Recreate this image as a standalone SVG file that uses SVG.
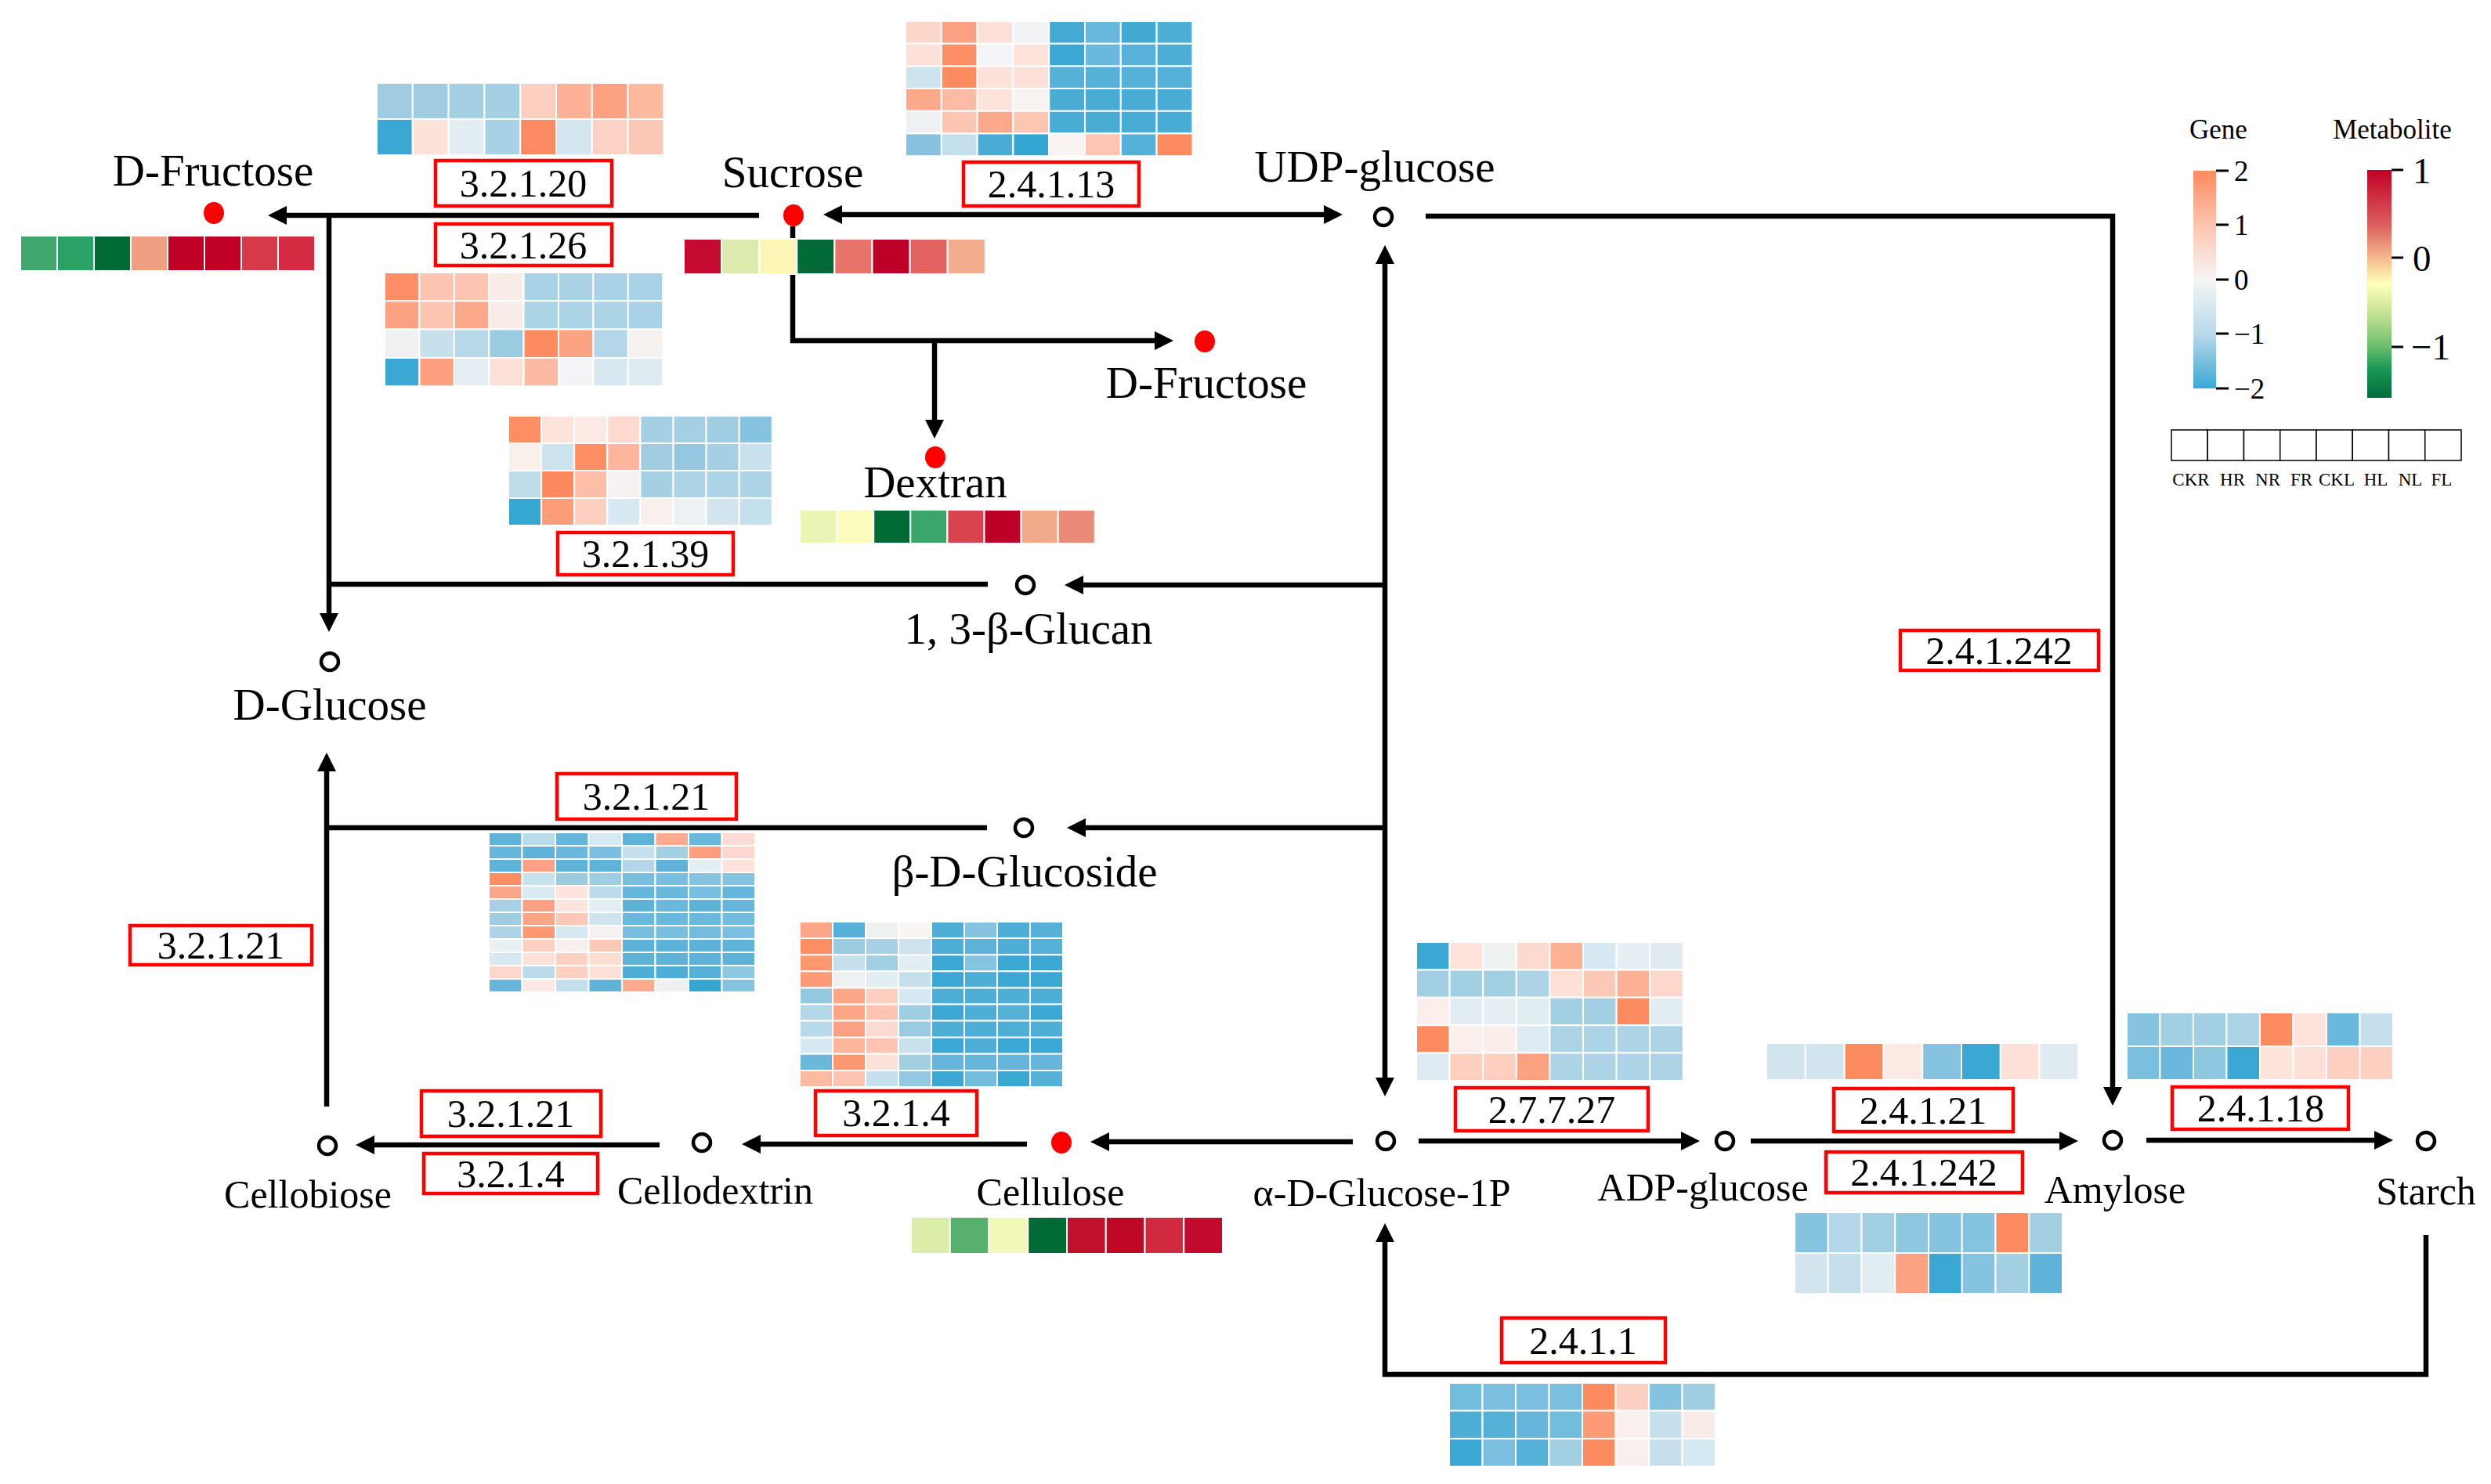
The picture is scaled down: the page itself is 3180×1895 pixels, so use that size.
<svg xmlns="http://www.w3.org/2000/svg" width="3180" height="1895" viewBox="0 0 3180 1895">
<style>
text{font-family:"Liberation Serif","Times New Roman",serif;fill:#000}
.lbl{font-size:57px;text-anchor:middle}
.lbl2{font-size:50px;text-anchor:middle}
.ec rect.box{fill:#fff;stroke:#ff0000;stroke-width:4.5}
.ec text{font-size:50px;text-anchor:middle}
.hm rect{stroke:#ffffff;stroke-width:2;vector-effect:non-scaling-stroke}
.conn path{stroke:#000;stroke-width:6.5;fill:none}
.open{fill:#fff;stroke:#000;stroke-width:4.5}
.dot{fill:#ff0000}
.tick{stroke:#000;stroke-width:3}
.gl{font-size:37px}
.ml{font-size:47px}
.smp{font-size:23px;text-anchor:middle}
</style>
<defs>
<marker id="ah" viewBox="0 0 24 24" refX="2" refY="12" markerWidth="24" markerHeight="24" markerUnits="userSpaceOnUse" orient="auto-start-reverse"><path d="M0,0 L24,12 L0,24 z" fill="#000"/></marker>
<linearGradient id="gGene" x1="0" y1="0" x2="0" y2="1">
<stop offset="0" stop-color="#fc8a5f"/><stop offset="0.25" stop-color="#fdc4ae"/><stop offset="0.5" stop-color="#f5f5f5"/><stop offset="0.75" stop-color="#b9d9ea"/><stop offset="1" stop-color="#3aa8d3"/>
</linearGradient>
<linearGradient id="gMet" x1="0" y1="0" x2="0" y2="1">
<stop offset="0" stop-color="#c00025"/><stop offset="0.24" stop-color="#dd5e5c"/><stop offset="0.38" stop-color="#f4b58a"/><stop offset="0.5" stop-color="#ffffbb"/><stop offset="0.64" stop-color="#c0e092"/><stop offset="0.77" stop-color="#6ebe6e"/><stop offset="0.87" stop-color="#1b9a55"/><stop offset="1" stop-color="#006b3a"/>
</linearGradient>
</defs>
<rect width="3180" height="1895" fill="#fff"/>

<g id="connectors" class="conn">
<path d="M969,275 H364" marker-end="url(#ah)"/>
<path d="M420,275 V785" marker-end="url(#ah)"/>
<path d="M1261,746 H420"/>
<path d="M1012,289 V435 H1476" marker-end="url(#ah)"/>
<path d="M1193,435 V538" marker-end="url(#ah)"/>
<path d="M1073,274 H1692" marker-start="url(#ah)" marker-end="url(#ah)"/>
<path d="M1820,276 H2697 V1390" marker-end="url(#ah)"/>
<path d="M1768,335 V1378" marker-start="url(#ah)" marker-end="url(#ah)"/>
<path d="M1768,747 H1381" marker-end="url(#ah)"/>
<path d="M1768,1057 H1384" marker-end="url(#ah)"/>
<path d="M1260,1057 H417"/>
<path d="M417,1413 V983" marker-end="url(#ah)"/>
<path d="M1727,1458 H1414" marker-end="url(#ah)"/>
<path d="M1311,1461 H969" marker-end="url(#ah)"/>
<path d="M842,1462 H476" marker-end="url(#ah)"/>
<path d="M1811,1457 H2148" marker-end="url(#ah)"/>
<path d="M2235,1457 H2631" marker-end="url(#ah)"/>
<path d="M2740,1456 H3033" marker-end="url(#ah)"/>
<path d="M3097,1577 V1755 H1768 V1584" marker-end="url(#ah)"/>
</g>

<!-- Metabolite nodes -->
<g id="node-dfructose-left">
<text class="lbl" x="272" y="237">D-Fructose</text>
<ellipse class="dot" cx="273" cy="272" rx="13" ry="14"/>
<g class="hm" transform="translate(26,301) scale(47,45)">
<rect x="0" y="0" width="1" height="1" fill="#40a86c"/><rect x="1" y="0" width="1" height="1" fill="#2aa265"/><rect x="2" y="0" width="1" height="1" fill="#006b35"/><rect x="3" y="0" width="1" height="1" fill="#ef9f82"/><rect x="4" y="0" width="1" height="1" fill="#c00025"/><rect x="5" y="0" width="1" height="1" fill="#c00025"/><rect x="6" y="0" width="1" height="1" fill="#d63a48"/><rect x="7" y="0" width="1" height="1" fill="#d62b42"/>
</g>
</g>

<g id="node-sucrose">
<text class="lbl" x="1012" y="239">Sucrose</text>
<g class="hm" transform="translate(873,305) scale(48.1,45)">
<rect x="0" y="0" width="1" height="1" fill="#c40a2e"/><rect x="1" y="0" width="1" height="1" fill="#dbeaad"/><rect x="2" y="0" width="1" height="1" fill="#fdf5b5"/><rect x="3" y="0" width="1" height="1" fill="#006b37"/><rect x="4" y="0" width="1" height="1" fill="#e8736a"/><rect x="5" y="0" width="1" height="1" fill="#be0028"/><rect x="6" y="0" width="1" height="1" fill="#e2625f"/><rect x="7" y="0" width="1" height="1" fill="#f2ad8c"/>
</g>
<ellipse class="dot" cx="1013" cy="275" rx="13" ry="14"/>
</g>

<g id="node-udpglucose">
<text class="lbl" x="1755" y="232">UDP-glucose</text>
<circle class="open" cx="1766" cy="277" r="11"/>
</g>

<g id="node-dfructose-right">
<ellipse class="dot" cx="1538" cy="436" rx="13" ry="14"/>
<text class="lbl" x="1540" y="508">D-Fructose</text>
</g>

<g id="node-dextran">
<ellipse class="dot" cx="1194" cy="584" rx="13" ry="14"/>
<text class="lbl" x="1194" y="635">Dextran</text>
<g class="hm" transform="translate(1021,651) scale(47.1,43)">
<rect x="0" y="0" width="1" height="1" fill="#e9f4b5"/><rect x="1" y="0" width="1" height="1" fill="#fbfbbb"/><rect x="2" y="0" width="1" height="1" fill="#006a35"/><rect x="3" y="0" width="1" height="1" fill="#3aa66b"/><rect x="4" y="0" width="1" height="1" fill="#d8434e"/><rect x="5" y="0" width="1" height="1" fill="#be0026"/><rect x="6" y="0" width="1" height="1" fill="#f2ab8a"/><rect x="7" y="0" width="1" height="1" fill="#ea8a78"/>
</g>
</g>

<g id="node-glucan">
<circle class="open" cx="1309" cy="747" r="11"/>
<text class="lbl" x="1313" y="822">1, 3-β-Glucan</text>
</g>

<g id="node-dglucose">
<circle class="open" cx="421" cy="845" r="11"/>
<text class="lbl" x="421" y="919">D-Glucose</text>
</g>

<g id="node-glucoside">
<circle class="open" cx="1307" cy="1057" r="11"/>
<text class="lbl" x="1308" y="1132">β-D-Glucoside</text>
</g>

<g id="node-cellobiose">
<circle class="open" cx="418" cy="1463" r="11"/>
<text class="lbl2" x="393" y="1542">Cellobiose</text>
</g>

<g id="node-cellodextrin">
<circle class="open" cx="896" cy="1459" r="11"/>
<text class="lbl2" x="913" y="1537">Cellodextrin</text>
</g>

<g id="node-cellulose">
<ellipse class="dot" cx="1355" cy="1459" rx="13" ry="14"/>
<text class="lbl2" x="1341" y="1539">Cellulose</text>
<g class="hm" transform="translate(1163,1554) scale(49.75,47)">
<rect x="0" y="0" width="1" height="1" fill="#dcedaa"/><rect x="1" y="0" width="1" height="1" fill="#57b06e"/><rect x="2" y="0" width="1" height="1" fill="#f2f8b8"/><rect x="3" y="0" width="1" height="1" fill="#006a35"/><rect x="4" y="0" width="1" height="1" fill="#c0102c"/><rect x="5" y="0" width="1" height="1" fill="#be0826"/><rect x="6" y="0" width="1" height="1" fill="#d12a40"/><rect x="7" y="0" width="1" height="1" fill="#c40a2c"/>
</g>
</g>

<g id="node-glucose1p">
<circle class="open" cx="1769" cy="1457" r="11"/>
<text class="lbl2" x="1764" y="1540">α-D-Glucose-1P</text>
</g>

<g id="node-adpglucose">
<circle class="open" cx="2202" cy="1457" r="11"/>
<text class="lbl2" x="2174" y="1533">ADP-glucose</text>
</g>

<g id="node-amylose">
<circle class="open" cx="2697" cy="1456" r="11"/>
<text class="lbl2" x="2700" y="1536">Amylose</text>
</g>

<g id="node-starch">
<circle class="open" cx="3097" cy="1457" r="11"/>
<text class="lbl2" x="3097" y="1538">Starch</text>
</g>

<!-- Enzymes -->
<g id="ec-3.2.1.20" class="ec">
<g class="hm" transform="translate(481,106) scale(45.8,46)">
<rect x="0" y="0" width="1" height="1" fill="#a0cbe1"/><rect x="1" y="0" width="1" height="1" fill="#a0cbe1"/><rect x="2" y="0" width="1" height="1" fill="#a5cfe3"/><rect x="3" y="0" width="1" height="1" fill="#a5cfe3"/><rect x="4" y="0" width="1" height="1" fill="#fdcfc0"/><rect x="5" y="0" width="1" height="1" fill="#fdb196"/><rect x="6" y="0" width="1" height="1" fill="#fca283"/><rect x="7" y="0" width="1" height="1" fill="#fdba9f"/>
<rect x="0" y="1" width="1" height="1" fill="#3aa8d3"/><rect x="1" y="1" width="1" height="1" fill="#fde2da"/><rect x="2" y="1" width="1" height="1" fill="#e3eef3"/><rect x="3" y="1" width="1" height="1" fill="#a9d1e5"/><rect x="4" y="1" width="1" height="1" fill="#fc8a62"/><rect x="5" y="1" width="1" height="1" fill="#d4e6ef"/><rect x="6" y="1" width="1" height="1" fill="#fdd1c3"/><rect x="7" y="1" width="1" height="1" fill="#fdc9b7"/>
</g>
<rect class="box" x="556" y="205" width="225" height="58"/>
<text x="668" y="251">3.2.1.20</text>
</g>

<g id="ec-3.2.1.26" class="ec">
<rect class="box" x="556" y="286" width="225" height="53"/>
<text x="668" y="330">3.2.1.26</text>
<g class="hm" transform="translate(491,348) scale(44.4,36.3)">
<rect x="0" y="0" width="1" height="1" fill="#fd8d64"/><rect x="1" y="0" width="1" height="1" fill="#fdc4b1"/><rect x="2" y="0" width="1" height="1" fill="#fdc4b1"/><rect x="3" y="0" width="1" height="1" fill="#f9ece8"/><rect x="4" y="0" width="1" height="1" fill="#a9d2e6"/><rect x="5" y="0" width="1" height="1" fill="#a9d2e6"/><rect x="6" y="0" width="1" height="1" fill="#a9d2e6"/><rect x="7" y="0" width="1" height="1" fill="#a9d2e6"/>
<rect x="0" y="1" width="1" height="1" fill="#fca283"/><rect x="1" y="1" width="1" height="1" fill="#fdc4b1"/><rect x="2" y="1" width="1" height="1" fill="#fca98b"/><rect x="3" y="1" width="1" height="1" fill="#f9ece8"/><rect x="4" y="1" width="1" height="1" fill="#abd4e7"/><rect x="5" y="1" width="1" height="1" fill="#abd4e7"/><rect x="6" y="1" width="1" height="1" fill="#abd4e7"/><rect x="7" y="1" width="1" height="1" fill="#a9d2e6"/>
<rect x="0" y="2" width="1" height="1" fill="#eef0f2"/><rect x="1" y="2" width="1" height="1" fill="#c6e0ec"/><rect x="2" y="2" width="1" height="1" fill="#b7d8e9"/><rect x="3" y="2" width="1" height="1" fill="#9bcbe1"/><rect x="4" y="2" width="1" height="1" fill="#fd8b60"/><rect x="5" y="2" width="1" height="1" fill="#fca384"/><rect x="6" y="2" width="1" height="1" fill="#b3d6e8"/><rect x="7" y="2" width="1" height="1" fill="#f6f2f0"/>
<rect x="0" y="3" width="1" height="1" fill="#39a8d4"/><rect x="1" y="3" width="1" height="1" fill="#fda07f"/><rect x="2" y="3" width="1" height="1" fill="#e6eff4"/><rect x="3" y="3" width="1" height="1" fill="#fde0d6"/><rect x="4" y="3" width="1" height="1" fill="#fdbaa2"/><rect x="5" y="3" width="1" height="1" fill="#f3f4f6"/><rect x="6" y="3" width="1" height="1" fill="#d8e8f0"/><rect x="7" y="3" width="1" height="1" fill="#dfeaf1"/>
</g>
</g>

<g id="ec-2.4.1.13" class="ec">
<g class="hm" transform="translate(1156,27) scale(45.8,28.7)">
<rect x="0" y="0" width="1" height="1" fill="#fdd6ca"/><rect x="1" y="0" width="1" height="1" fill="#fca181"/><rect x="2" y="0" width="1" height="1" fill="#fde0d7"/><rect x="3" y="0" width="1" height="1" fill="#f2f3f5"/><rect x="4" y="0" width="1" height="1" fill="#44aad4"/><rect x="5" y="0" width="1" height="1" fill="#68b8dc"/><rect x="6" y="0" width="1" height="1" fill="#42a9d3"/><rect x="7" y="0" width="1" height="1" fill="#4eaed6"/>
<rect x="0" y="1" width="1" height="1" fill="#fde0d7"/><rect x="1" y="1" width="1" height="1" fill="#fd8f66"/><rect x="2" y="1" width="1" height="1" fill="#f3f4f5"/><rect x="3" y="1" width="1" height="1" fill="#fde3da"/><rect x="4" y="1" width="1" height="1" fill="#3aa8d3"/><rect x="5" y="1" width="1" height="1" fill="#6ab9dc"/><rect x="6" y="1" width="1" height="1" fill="#57b1d8"/><rect x="7" y="1" width="1" height="1" fill="#4eaed6"/>
<rect x="0" y="2" width="1" height="1" fill="#cde3ee"/><rect x="1" y="2" width="1" height="1" fill="#fd8b60"/><rect x="2" y="2" width="1" height="1" fill="#fde2d9"/><rect x="3" y="2" width="1" height="1" fill="#fde0d7"/><rect x="4" y="2" width="1" height="1" fill="#55b1d8"/><rect x="5" y="2" width="1" height="1" fill="#55b1d8"/><rect x="6" y="2" width="1" height="1" fill="#55b1d8"/><rect x="7" y="2" width="1" height="1" fill="#55b1d8"/>
<rect x="0" y="3" width="1" height="1" fill="#fca98b"/><rect x="1" y="3" width="1" height="1" fill="#fdbba3"/><rect x="2" y="3" width="1" height="1" fill="#fde3da"/><rect x="3" y="3" width="1" height="1" fill="#f8f2f0"/><rect x="4" y="3" width="1" height="1" fill="#49acd5"/><rect x="5" y="3" width="1" height="1" fill="#49acd5"/><rect x="6" y="3" width="1" height="1" fill="#49acd5"/><rect x="7" y="3" width="1" height="1" fill="#49acd5"/>
<rect x="0" y="4" width="1" height="1" fill="#eef0f2"/><rect x="1" y="4" width="1" height="1" fill="#fdc6b3"/><rect x="2" y="4" width="1" height="1" fill="#fca98b"/><rect x="3" y="4" width="1" height="1" fill="#fdc6b3"/><rect x="4" y="4" width="1" height="1" fill="#49acd5"/><rect x="5" y="4" width="1" height="1" fill="#49acd5"/><rect x="6" y="4" width="1" height="1" fill="#49acd5"/><rect x="7" y="4" width="1" height="1" fill="#49acd5"/>
<rect x="0" y="5" width="1" height="1" fill="#86c1e0"/><rect x="1" y="5" width="1" height="1" fill="#c4e0ed"/><rect x="2" y="5" width="1" height="1" fill="#49acd5"/><rect x="3" y="5" width="1" height="1" fill="#34a6d2"/><rect x="4" y="5" width="1" height="1" fill="#f8f3f0"/><rect x="5" y="5" width="1" height="1" fill="#fdc6b3"/><rect x="6" y="5" width="1" height="1" fill="#55b1d8"/><rect x="7" y="5" width="1" height="1" fill="#fd8b60"/>
</g>
<rect class="box" x="1230" y="207" width="224" height="56"/>
<text x="1342" y="252">2.4.1.13</text>
</g>

<g id="ec-3.2.1.39" class="ec">
<g class="hm" transform="translate(649,531) scale(42.1,35)">
<rect x="0" y="0" width="1" height="1" fill="#fd8e64"/><rect x="1" y="0" width="1" height="1" fill="#fde3da"/><rect x="2" y="0" width="1" height="1" fill="#fde9e3"/><rect x="3" y="0" width="1" height="1" fill="#fddacf"/><rect x="4" y="0" width="1" height="1" fill="#a5cfe3"/><rect x="5" y="0" width="1" height="1" fill="#a5cfe3"/><rect x="6" y="0" width="1" height="1" fill="#a0cde2"/><rect x="7" y="0" width="1" height="1" fill="#86c3e0"/>
<rect x="0" y="1" width="1" height="1" fill="#f9efeb"/><rect x="1" y="1" width="1" height="1" fill="#cde3ee"/><rect x="2" y="1" width="1" height="1" fill="#fd8e64"/><rect x="3" y="1" width="1" height="1" fill="#fdb69b"/><rect x="4" y="1" width="1" height="1" fill="#a0cde2"/><rect x="5" y="1" width="1" height="1" fill="#94c8e0"/><rect x="6" y="1" width="1" height="1" fill="#a5cfe3"/><rect x="7" y="1" width="1" height="1" fill="#c7e1ed"/>
<rect x="0" y="2" width="1" height="1" fill="#c0dcea"/><rect x="1" y="2" width="1" height="1" fill="#fd8a5f"/><rect x="2" y="2" width="1" height="1" fill="#fdbda6"/><rect x="3" y="2" width="1" height="1" fill="#f6f2f2"/><rect x="4" y="2" width="1" height="1" fill="#a5cfe3"/><rect x="5" y="2" width="1" height="1" fill="#acd3e6"/><rect x="6" y="2" width="1" height="1" fill="#acd3e6"/><rect x="7" y="2" width="1" height="1" fill="#acd3e6"/>
<rect x="0" y="3" width="1" height="1" fill="#36a7d3"/><rect x="1" y="3" width="1" height="1" fill="#fd9c78"/><rect x="2" y="3" width="1" height="1" fill="#fdcfc0"/><rect x="3" y="3" width="1" height="1" fill="#d6e8f1"/><rect x="4" y="3" width="1" height="1" fill="#f9efec"/><rect x="5" y="3" width="1" height="1" fill="#edf1f4"/><rect x="6" y="3" width="1" height="1" fill="#d2e5ef"/><rect x="7" y="3" width="1" height="1" fill="#c4e0ed"/>
</g>
<rect class="box" x="712" y="680" width="224" height="54"/>
<text x="824" y="724">3.2.1.39</text>
</g>

<g id="ec-3.2.1.21-a" class="ec">
<rect class="box" x="711" y="988" width="229" height="58"/>
<text x="825" y="1034">3.2.1.21</text>
<g class="hm" transform="translate(624,1063) scale(42.5,17)">
<rect x="0" y="0" width="1" height="1" fill="#5fb3d9"/><rect x="1" y="0" width="1" height="1" fill="#bcdbea"/><rect x="2" y="0" width="1" height="1" fill="#65b6da"/><rect x="3" y="0" width="1" height="1" fill="#d6e8f1"/><rect x="4" y="0" width="1" height="1" fill="#5fb3d9"/><rect x="5" y="0" width="1" height="1" fill="#fcab8e"/><rect x="6" y="0" width="1" height="1" fill="#6ab8dc"/><rect x="7" y="0" width="1" height="1" fill="#fdddd3"/>
<rect x="0" y="1" width="1" height="1" fill="#66b6db"/><rect x="1" y="1" width="1" height="1" fill="#5fb3d9"/><rect x="2" y="1" width="1" height="1" fill="#6ab8dc"/><rect x="3" y="1" width="1" height="1" fill="#7abfdf"/><rect x="4" y="1" width="1" height="1" fill="#c5e0ec"/><rect x="5" y="1" width="1" height="1" fill="#a5d0e4"/><rect x="6" y="1" width="1" height="1" fill="#fc9f7e"/><rect x="7" y="1" width="1" height="1" fill="#fdd7cb"/>
<rect x="0" y="2" width="1" height="1" fill="#5fb3d9"/><rect x="1" y="2" width="1" height="1" fill="#fca083"/><rect x="2" y="2" width="1" height="1" fill="#5fb3d9"/><rect x="3" y="2" width="1" height="1" fill="#5fb3d9"/><rect x="4" y="2" width="1" height="1" fill="#b3d7e8"/><rect x="5" y="2" width="1" height="1" fill="#5fb3d9"/><rect x="6" y="2" width="1" height="1" fill="#e3eef3"/><rect x="7" y="2" width="1" height="1" fill="#fde2d9"/>
<rect x="0" y="3" width="1" height="1" fill="#fd8d63"/><rect x="1" y="3" width="1" height="1" fill="#c7e1ed"/><rect x="2" y="3" width="1" height="1" fill="#9acbe1"/><rect x="3" y="3" width="1" height="1" fill="#9fcde2"/><rect x="4" y="3" width="1" height="1" fill="#78bedf"/><rect x="5" y="3" width="1" height="1" fill="#78bedf"/><rect x="6" y="3" width="1" height="1" fill="#86c3e0"/><rect x="7" y="3" width="1" height="1" fill="#86c3e0"/>
<rect x="0" y="4" width="1" height="1" fill="#fda587"/><rect x="1" y="4" width="1" height="1" fill="#d9eaf2"/><rect x="2" y="4" width="1" height="1" fill="#fde5dd"/><rect x="3" y="4" width="1" height="1" fill="#bcdbea"/><rect x="4" y="4" width="1" height="1" fill="#66b6db"/><rect x="5" y="4" width="1" height="1" fill="#6ab8dc"/><rect x="6" y="4" width="1" height="1" fill="#78bedf"/><rect x="7" y="4" width="1" height="1" fill="#66b6db"/>
<rect x="0" y="5" width="1" height="1" fill="#a8d1e5"/><rect x="1" y="5" width="1" height="1" fill="#fca083"/><rect x="2" y="5" width="1" height="1" fill="#fde5dd"/><rect x="3" y="5" width="1" height="1" fill="#e3eef3"/><rect x="4" y="5" width="1" height="1" fill="#5db2d8"/><rect x="5" y="5" width="1" height="1" fill="#6ab8dc"/><rect x="6" y="5" width="1" height="1" fill="#5db2d8"/><rect x="7" y="5" width="1" height="1" fill="#66b6db"/>
<rect x="0" y="6" width="1" height="1" fill="#9fcde2"/><rect x="1" y="6" width="1" height="1" fill="#fca587"/><rect x="2" y="6" width="1" height="1" fill="#fdc9b7"/><rect x="3" y="6" width="1" height="1" fill="#cfe4ef"/><rect x="4" y="6" width="1" height="1" fill="#6ab8dc"/><rect x="5" y="6" width="1" height="1" fill="#6ab8dc"/><rect x="6" y="6" width="1" height="1" fill="#6ab8dc"/><rect x="7" y="6" width="1" height="1" fill="#72bcde"/>
<rect x="0" y="7" width="1" height="1" fill="#acd3e6"/><rect x="1" y="7" width="1" height="1" fill="#fd9873"/><rect x="2" y="7" width="1" height="1" fill="#d6e8f1"/><rect x="3" y="7" width="1" height="1" fill="#f5f1f0"/><rect x="4" y="7" width="1" height="1" fill="#78bedf"/><rect x="5" y="7" width="1" height="1" fill="#78bedf"/><rect x="6" y="7" width="1" height="1" fill="#72bcde"/><rect x="7" y="7" width="1" height="1" fill="#7abfdf"/>
<rect x="0" y="8" width="1" height="1" fill="#e8f0f4"/><rect x="1" y="8" width="1" height="1" fill="#fdcfc0"/><rect x="2" y="8" width="1" height="1" fill="#f7efec"/><rect x="3" y="8" width="1" height="1" fill="#fdc9b7"/><rect x="4" y="8" width="1" height="1" fill="#5db2d8"/><rect x="5" y="8" width="1" height="1" fill="#5db2d8"/><rect x="6" y="8" width="1" height="1" fill="#5db2d8"/><rect x="7" y="8" width="1" height="1" fill="#5fb3d9"/>
<rect x="0" y="9" width="1" height="1" fill="#d6e8f1"/><rect x="1" y="9" width="1" height="1" fill="#fde0d7"/><rect x="2" y="9" width="1" height="1" fill="#fdd0c2"/><rect x="3" y="9" width="1" height="1" fill="#fddcd2"/><rect x="4" y="9" width="1" height="1" fill="#5db2d8"/><rect x="5" y="9" width="1" height="1" fill="#5db2d8"/><rect x="6" y="9" width="1" height="1" fill="#5db2d8"/><rect x="7" y="9" width="1" height="1" fill="#5db2d8"/>
<rect x="0" y="10" width="1" height="1" fill="#fdd7cb"/><rect x="1" y="10" width="1" height="1" fill="#bcdbea"/><rect x="2" y="10" width="1" height="1" fill="#fdd0c2"/><rect x="3" y="10" width="1" height="1" fill="#fde0d7"/><rect x="4" y="10" width="1" height="1" fill="#4eaed6"/><rect x="5" y="10" width="1" height="1" fill="#4eaed6"/><rect x="6" y="10" width="1" height="1" fill="#55b1d8"/><rect x="7" y="10" width="1" height="1" fill="#8ec7e0"/>
<rect x="0" y="11" width="1" height="1" fill="#66b6db"/><rect x="1" y="11" width="1" height="1" fill="#fde8e2"/><rect x="2" y="11" width="1" height="1" fill="#c5e0ec"/><rect x="3" y="11" width="1" height="1" fill="#5fb3d9"/><rect x="4" y="11" width="1" height="1" fill="#fcab8e"/><rect x="5" y="11" width="1" height="1" fill="#eef0f2"/><rect x="6" y="11" width="1" height="1" fill="#34a6d2"/><rect x="7" y="11" width="1" height="1" fill="#86c3e0"/>
</g>
</g>

<g id="ec-3.2.1.21-b" class="ec">
<rect class="box" x="166" y="1182" width="232" height="50"/>
<text x="282" y="1224">3.2.1.21</text>
</g>

<g id="ec-3.2.1.4-a" class="ec">
<g class="hm" transform="translate(1021,1177) scale(42,21.1)">
<rect x="0" y="0" width="1" height="1" fill="#fda587"/><rect x="1" y="0" width="1" height="1" fill="#55b1d8"/><rect x="2" y="0" width="1" height="1" fill="#eef0f2"/><rect x="3" y="0" width="1" height="1" fill="#f8f5f4"/><rect x="4" y="0" width="1" height="1" fill="#4eaed6"/><rect x="5" y="0" width="1" height="1" fill="#86c3e0"/><rect x="6" y="0" width="1" height="1" fill="#4eaed6"/><rect x="7" y="0" width="1" height="1" fill="#55b1d8"/>
<rect x="0" y="1" width="1" height="1" fill="#fd8d63"/><rect x="1" y="1" width="1" height="1" fill="#9acbe1"/><rect x="2" y="1" width="1" height="1" fill="#a8d1e5"/><rect x="3" y="1" width="1" height="1" fill="#cde3ee"/><rect x="4" y="1" width="1" height="1" fill="#4eaed6"/><rect x="5" y="1" width="1" height="1" fill="#5db2d8"/><rect x="6" y="1" width="1" height="1" fill="#4eaed6"/><rect x="7" y="1" width="1" height="1" fill="#55b1d8"/>
<rect x="0" y="2" width="1" height="1" fill="#fd976f"/><rect x="1" y="2" width="1" height="1" fill="#c5e0ec"/><rect x="2" y="2" width="1" height="1" fill="#a3cfe3"/><rect x="3" y="2" width="1" height="1" fill="#e3eef3"/><rect x="4" y="2" width="1" height="1" fill="#3aa8d3"/><rect x="5" y="2" width="1" height="1" fill="#86c3e0"/><rect x="6" y="2" width="1" height="1" fill="#3aa8d3"/><rect x="7" y="2" width="1" height="1" fill="#3aa8d3"/>
<rect x="0" y="3" width="1" height="1" fill="#fd9b77"/><rect x="1" y="3" width="1" height="1" fill="#eef0f2"/><rect x="2" y="3" width="1" height="1" fill="#e3eef3"/><rect x="3" y="3" width="1" height="1" fill="#c5e0ec"/><rect x="4" y="3" width="1" height="1" fill="#3aa8d3"/><rect x="5" y="3" width="1" height="1" fill="#4eaed6"/><rect x="6" y="3" width="1" height="1" fill="#3aa8d3"/><rect x="7" y="3" width="1" height="1" fill="#3aa8d3"/>
<rect x="0" y="4" width="1" height="1" fill="#94c8e0"/><rect x="1" y="4" width="1" height="1" fill="#fda587"/><rect x="2" y="4" width="1" height="1" fill="#fdcfc0"/><rect x="3" y="4" width="1" height="1" fill="#d6e8f1"/><rect x="4" y="4" width="1" height="1" fill="#4eaed6"/><rect x="5" y="4" width="1" height="1" fill="#4eaed6"/><rect x="6" y="4" width="1" height="1" fill="#4eaed6"/><rect x="7" y="4" width="1" height="1" fill="#4eaed6"/>
<rect x="0" y="5" width="1" height="1" fill="#b3d7e8"/><rect x="1" y="5" width="1" height="1" fill="#fda587"/><rect x="2" y="5" width="1" height="1" fill="#fdc4b1"/><rect x="3" y="5" width="1" height="1" fill="#9fcde2"/><rect x="4" y="5" width="1" height="1" fill="#3aa8d3"/><rect x="5" y="5" width="1" height="1" fill="#4eaed6"/><rect x="6" y="5" width="1" height="1" fill="#55b1d8"/><rect x="7" y="5" width="1" height="1" fill="#3aa8d3"/>
<rect x="0" y="6" width="1" height="1" fill="#b8d9e9"/><rect x="1" y="6" width="1" height="1" fill="#fca083"/><rect x="2" y="6" width="1" height="1" fill="#fddacf"/><rect x="3" y="6" width="1" height="1" fill="#9acbe1"/><rect x="4" y="6" width="1" height="1" fill="#4eaed6"/><rect x="5" y="6" width="1" height="1" fill="#4eaed6"/><rect x="6" y="6" width="1" height="1" fill="#4eaed6"/><rect x="7" y="6" width="1" height="1" fill="#4eaed6"/>
<rect x="0" y="7" width="1" height="1" fill="#d6e8f1"/><rect x="1" y="7" width="1" height="1" fill="#fdb69b"/><rect x="2" y="7" width="1" height="1" fill="#fdc4b1"/><rect x="3" y="7" width="1" height="1" fill="#c7e1ed"/><rect x="4" y="7" width="1" height="1" fill="#3aa8d3"/><rect x="5" y="7" width="1" height="1" fill="#4eaed6"/><rect x="6" y="7" width="1" height="1" fill="#3aa8d3"/><rect x="7" y="7" width="1" height="1" fill="#3aa8d3"/>
<rect x="0" y="8" width="1" height="1" fill="#6ab8dc"/><rect x="1" y="8" width="1" height="1" fill="#fd976f"/><rect x="2" y="8" width="1" height="1" fill="#fde2d9"/><rect x="3" y="8" width="1" height="1" fill="#a3cfe3"/><rect x="4" y="8" width="1" height="1" fill="#66b6db"/><rect x="5" y="8" width="1" height="1" fill="#66b6db"/><rect x="6" y="8" width="1" height="1" fill="#66b6db"/><rect x="7" y="8" width="1" height="1" fill="#66b6db"/>
<rect x="0" y="9" width="1" height="1" fill="#fdbba3"/><rect x="1" y="9" width="1" height="1" fill="#fdc4b1"/><rect x="2" y="9" width="1" height="1" fill="#c5e0ec"/><rect x="3" y="9" width="1" height="1" fill="#94c8e0"/><rect x="4" y="9" width="1" height="1" fill="#3aa8d3"/><rect x="5" y="9" width="1" height="1" fill="#72bcde"/><rect x="6" y="9" width="1" height="1" fill="#3aa8d3"/><rect x="7" y="9" width="1" height="1" fill="#55b1d8"/>
</g>
<rect class="box" x="1041" y="1393" width="206" height="57"/>
<text x="1144" y="1438">3.2.1.4</text>
</g>

<g id="ec-3.2.1.21-c" class="ec">
<rect class="box" x="538" y="1393" width="229" height="58"/>
<text x="652" y="1439">3.2.1.21</text>
</g>

<g id="ec-3.2.1.4-b" class="ec">
<rect class="box" x="541" y="1473" width="222" height="51"/>
<text x="652" y="1516">3.2.1.4</text>
</g>

<g id="ec-2.7.7.27" class="ec">
<g class="hm" transform="translate(1808,1203) scale(42.6,35.4)">
<rect x="0" y="0" width="1" height="1" fill="#3aa8d3"/><rect x="1" y="0" width="1" height="1" fill="#fde3da"/><rect x="2" y="0" width="1" height="1" fill="#eef3f2"/><rect x="3" y="0" width="1" height="1" fill="#fddacf"/><rect x="4" y="0" width="1" height="1" fill="#fdb195"/><rect x="5" y="0" width="1" height="1" fill="#d6e8f1"/><rect x="6" y="0" width="1" height="1" fill="#e6eff4"/><rect x="7" y="0" width="1" height="1" fill="#dfeaf1"/>
<rect x="0" y="1" width="1" height="1" fill="#a3cfe3"/><rect x="1" y="1" width="1" height="1" fill="#a3cfe3"/><rect x="2" y="1" width="1" height="1" fill="#a3cfe3"/><rect x="3" y="1" width="1" height="1" fill="#acd3e6"/><rect x="4" y="1" width="1" height="1" fill="#fde0d7"/><rect x="5" y="1" width="1" height="1" fill="#fdc9b7"/><rect x="6" y="1" width="1" height="1" fill="#fdb195"/><rect x="7" y="1" width="1" height="1" fill="#fdd7cb"/>
<rect x="0" y="2" width="1" height="1" fill="#fbefec"/><rect x="1" y="2" width="1" height="1" fill="#e1edf2"/><rect x="2" y="2" width="1" height="1" fill="#e6eff4"/><rect x="3" y="2" width="1" height="1" fill="#e1eef1"/><rect x="4" y="2" width="1" height="1" fill="#a3cfe3"/><rect x="5" y="2" width="1" height="1" fill="#a3cfe3"/><rect x="6" y="2" width="1" height="1" fill="#fd8b60"/><rect x="7" y="2" width="1" height="1" fill="#e1edf2"/>
<rect x="0" y="3" width="1" height="1" fill="#fd8b60"/><rect x="1" y="3" width="1" height="1" fill="#fbefec"/><rect x="2" y="3" width="1" height="1" fill="#faeeea"/><rect x="3" y="3" width="1" height="1" fill="#deebf2"/><rect x="4" y="3" width="1" height="1" fill="#acd3e6"/><rect x="5" y="3" width="1" height="1" fill="#acd3e6"/><rect x="6" y="3" width="1" height="1" fill="#acd3e6"/><rect x="7" y="3" width="1" height="1" fill="#acd3e6"/>
<rect x="0" y="4" width="1" height="1" fill="#deebf2"/><rect x="1" y="4" width="1" height="1" fill="#fdcfc0"/><rect x="2" y="4" width="1" height="1" fill="#fdcfc0"/><rect x="3" y="4" width="1" height="1" fill="#fca283"/><rect x="4" y="4" width="1" height="1" fill="#acd3e6"/><rect x="5" y="4" width="1" height="1" fill="#acd3e6"/><rect x="6" y="4" width="1" height="1" fill="#acd3e6"/><rect x="7" y="4" width="1" height="1" fill="#acd3e6"/>
</g>
<rect class="box" x="1858" y="1389" width="246" height="55"/>
<text x="1981" y="1434">2.7.7.27</text>
</g>

<g id="ec-2.4.1.21" class="ec">
<g class="hm" transform="translate(2255,1332) scale(49.8,47)">
<rect x="0" y="0" width="1" height="1" fill="#d2e5ef"/><rect x="1" y="0" width="1" height="1" fill="#d2e5ef"/><rect x="2" y="0" width="1" height="1" fill="#fd8b60"/><rect x="3" y="0" width="1" height="1" fill="#fbe9e4"/><rect x="4" y="0" width="1" height="1" fill="#86c3e0"/><rect x="5" y="0" width="1" height="1" fill="#3aa8d3"/><rect x="6" y="0" width="1" height="1" fill="#fde0d7"/><rect x="7" y="0" width="1" height="1" fill="#dfeaf1"/>
</g>
<rect class="box" x="2341" y="1390" width="229" height="55"/>
<text x="2455" y="1435">2.4.1.21</text>
</g>

<g id="ec-2.4.1.242-a" class="ec">
<rect class="box" x="2331" y="1471" width="251" height="52"/>
<text x="2456" y="1514">2.4.1.242</text>
<g class="hm" transform="translate(2291,1548) scale(42.75,52)">
<rect x="0" y="0" width="1" height="1" fill="#86c3e0"/><rect x="1" y="0" width="1" height="1" fill="#b3d7e8"/><rect x="2" y="0" width="1" height="1" fill="#a3cfe3"/><rect x="3" y="0" width="1" height="1" fill="#8ec7e0"/><rect x="4" y="0" width="1" height="1" fill="#86c3e0"/><rect x="5" y="0" width="1" height="1" fill="#86c3e0"/><rect x="6" y="0" width="1" height="1" fill="#fd8b60"/><rect x="7" y="0" width="1" height="1" fill="#a3cfe3"/>
<rect x="0" y="1" width="1" height="1" fill="#d2e5ef"/><rect x="1" y="1" width="1" height="1" fill="#c5e0ec"/><rect x="2" y="1" width="1" height="1" fill="#e1edf2"/><rect x="3" y="1" width="1" height="1" fill="#fca283"/><rect x="4" y="1" width="1" height="1" fill="#3aa8d3"/><rect x="5" y="1" width="1" height="1" fill="#86c3e0"/><rect x="6" y="1" width="1" height="1" fill="#a3cfe3"/><rect x="7" y="1" width="1" height="1" fill="#5fb3d9"/>
</g>
</g>

<g id="ec-2.4.1.18" class="ec">
<g class="hm" transform="translate(2715,1293) scale(42.5,43)">
<rect x="0" y="0" width="1" height="1" fill="#86c3e0"/><rect x="1" y="0" width="1" height="1" fill="#a3cfe3"/><rect x="2" y="0" width="1" height="1" fill="#a3cfe3"/><rect x="3" y="0" width="1" height="1" fill="#acd3e6"/><rect x="4" y="0" width="1" height="1" fill="#fd8b60"/><rect x="5" y="0" width="1" height="1" fill="#fde3da"/><rect x="6" y="0" width="1" height="1" fill="#6ab8dc"/><rect x="7" y="0" width="1" height="1" fill="#c5e0ec"/>
<rect x="0" y="1" width="1" height="1" fill="#7abfdf"/><rect x="1" y="1" width="1" height="1" fill="#6ab8dc"/><rect x="2" y="1" width="1" height="1" fill="#8ec7e0"/><rect x="3" y="1" width="1" height="1" fill="#3aa8d3"/><rect x="4" y="1" width="1" height="1" fill="#fde3da"/><rect x="5" y="1" width="1" height="1" fill="#fde0d7"/><rect x="6" y="1" width="1" height="1" fill="#fdcfc0"/><rect x="7" y="1" width="1" height="1" fill="#fdd0c2"/>
</g>
<rect class="box" x="2773" y="1388" width="225" height="54"/>
<text x="2886" y="1432">2.4.1.18</text>
</g>

<g id="ec-2.4.1.242-b" class="ec">
<rect class="box" x="2426" y="805" width="253" height="51"/>
<text x="2552" y="848">2.4.1.242</text>
</g>

<g id="ec-2.4.1.1" class="ec">
<rect class="box" x="1917" y="1683" width="209" height="57"/>
<text x="2021" y="1729">2.4.1.1</text>
<g class="hm" transform="translate(1850,1766) scale(42.5,35.6)">
<rect x="0" y="0" width="1" height="1" fill="#72bcde"/><rect x="1" y="0" width="1" height="1" fill="#7abfdf"/><rect x="2" y="0" width="1" height="1" fill="#7abfdf"/><rect x="3" y="0" width="1" height="1" fill="#7abfdf"/><rect x="4" y="0" width="1" height="1" fill="#fd8b60"/><rect x="5" y="0" width="1" height="1" fill="#fdd0c2"/><rect x="6" y="0" width="1" height="1" fill="#86c3e0"/><rect x="7" y="0" width="1" height="1" fill="#9fcde2"/>
<rect x="0" y="1" width="1" height="1" fill="#4eaed6"/><rect x="1" y="1" width="1" height="1" fill="#55b1d8"/><rect x="2" y="1" width="1" height="1" fill="#66b6db"/><rect x="3" y="1" width="1" height="1" fill="#72bcde"/><rect x="4" y="1" width="1" height="1" fill="#fd9b77"/><rect x="5" y="1" width="1" height="1" fill="#f9efec"/><rect x="6" y="1" width="1" height="1" fill="#c5e0ec"/><rect x="7" y="1" width="1" height="1" fill="#f9ece8"/>
<rect x="0" y="2" width="1" height="1" fill="#3aa8d3"/><rect x="1" y="2" width="1" height="1" fill="#7abfdf"/><rect x="2" y="2" width="1" height="1" fill="#55b1d8"/><rect x="3" y="2" width="1" height="1" fill="#a3cfe3"/><rect x="4" y="2" width="1" height="1" fill="#fd8b60"/><rect x="5" y="2" width="1" height="1" fill="#f9f0ed"/><rect x="6" y="2" width="1" height="1" fill="#c5e0ec"/><rect x="7" y="2" width="1" height="1" fill="#d6e8f1"/>
</g>
</g>

<!-- Legend -->
<g id="legend">
<text x="2832" y="177" style="font-size:35px;text-anchor:middle">Gene</text>
<text x="3054" y="177" style="font-size:35px;text-anchor:middle">Metabolite</text>
<rect x="2800" y="218" width="29" height="278" fill="url(#gGene)"/>
<path class="tick" d="M2829,218 H2845 M2829,287 H2845 M2829,357 H2845 M2829,426 H2845 M2829,496 H2845"/>
<text class="gl" x="2852" y="231">2</text>
<text class="gl" x="2852" y="300">1</text>
<text class="gl" x="2852" y="370">0</text>
<text class="gl" x="2852" y="439">−1</text>
<text class="gl" x="2852" y="509">−2</text>
<rect x="3022" y="217" width="31" height="291" fill="url(#gMet)"/>
<path class="tick" d="M3053,217 H3068 M3053,329 H3068 M3053,443 H3068"/>
<text class="ml" x="3080" y="234">1</text>
<text class="ml" x="3080" y="346">0</text>
<text class="ml" x="3078" y="459">−1</text>
<g fill="#fff" stroke="#000" stroke-width="1.5">
<rect x="2772" y="549" width="46.25" height="39"/><rect x="2818.25" y="549" width="46.25" height="39"/><rect x="2864.5" y="549" width="46.25" height="39"/><rect x="2910.75" y="549" width="46.25" height="39"/><rect x="2957" y="549" width="46.25" height="39"/><rect x="3003.25" y="549" width="46.25" height="39"/><rect x="3049.5" y="549" width="46.25" height="39"/><rect x="3095.75" y="549" width="46.25" height="39"/>
</g>
<text class="smp" x="2797" y="620">CKR</text>
<text class="smp" x="2850" y="620">HR</text>
<text class="smp" x="2895" y="620">NR</text>
<text class="smp" x="2938" y="620">FR</text>
<text class="smp" x="2983" y="620">CKL</text>
<text class="smp" x="3033" y="620">HL</text>
<text class="smp" x="3077" y="620">NL</text>
<text class="smp" x="3117" y="620">FL</text>
</g>
</svg>
